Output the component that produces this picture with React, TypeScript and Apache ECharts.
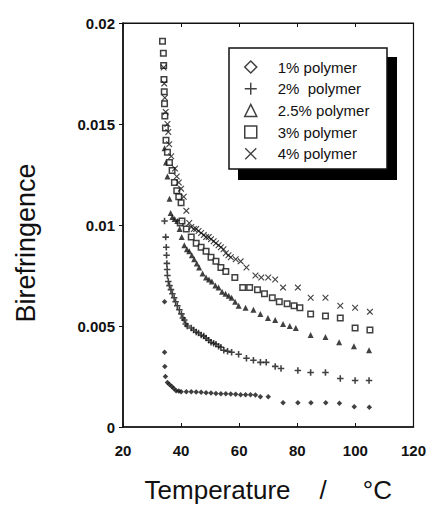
import React, { useEffect, useRef } from 'react';
import * as echarts from 'echarts';

const seriesNames = ['1% polymer', '2%  polymer', '2.5% polymer', '3% polymer', '4% polymer'];
const xTickValues = [20, 40, 60, 80, 100, 120];
const yTickValues = [0, 0.005, 0.01, 0.015, 0.02];

const p1: [number, number][] = [
  [34.3, 0.0062], [34.3, 0.0037], [34.4, 0.003], [34.6, 0.0025], [35.3, 0.0022], [36.0, 0.0021],
  [36.8, 0.002], [37.5, 0.0019], [38.3, 0.0018], [39.2, 0.00178], [40.0, 0.00175], [41.8, 0.00175],
  [43.5, 0.00175], [45.2, 0.00173], [46.9, 0.00172], [48.6, 0.0017], [50.3, 0.00168], [52.0, 0.00166],
  [53.7, 0.00165], [55.4, 0.00164], [57.1, 0.00163], [58.8, 0.00162], [60.5, 0.0016], [62.2, 0.0016],
  [63.9, 0.0016], [65.6, 0.00158], [67.3, 0.0015], [70.0, 0.0015], [75.1, 0.0012], [80.2, 0.0012],
  [84.7, 0.0012], [89.8, 0.0012], [94.5, 0.00118], [99.6, 0.001], [104.8, 0.00098],
];

const p2: [number, number][] = [
  [34.3, 0.0102], [34.7, 0.0094], [34.9, 0.0089], [35.0, 0.0085], [35.1, 0.0081], [35.2, 0.0078],
  [35.3, 0.0075], [35.6, 0.0072], [36.0, 0.007], [36.5, 0.0068], [37.0, 0.0066], [37.6, 0.0064],
  [38.1, 0.0062], [38.7, 0.006], [39.4, 0.0058], [40.1, 0.0056], [40.6, 0.0054], [41.1, 0.0053],
  [41.6, 0.0051], [42.1, 0.005], [43.5, 0.0049], [44.3, 0.0048], [45.2, 0.0047], [46.0, 0.00465],
  [46.9, 0.00455], [47.8, 0.0045], [48.6, 0.0044], [49.5, 0.0043], [50.3, 0.0042], [51.2, 0.00415],
  [52.0, 0.0041], [52.9, 0.004], [53.7, 0.00395], [54.7, 0.0038], [56.0, 0.00375], [57.4, 0.0037],
  [59.8, 0.0036], [62.5, 0.0034], [64.9, 0.0033], [67.3, 0.0032], [69.3, 0.0032], [72.4, 0.003],
  [74.4, 0.0029], [80.2, 0.0028], [84.6, 0.0027], [89.7, 0.0027], [94.8, 0.0024], [99.9, 0.0023],
  [104.7, 0.0023],
];

const p25: [number, number][] = [
  [34.3, 0.0138], [34.8, 0.0131], [35.3, 0.0124], [36.0, 0.0113], [36.4, 0.0106], [37.0, 0.0104],
  [37.8, 0.0103], [38.7, 0.0102], [39.5, 0.0098], [40.2, 0.0094], [41.1, 0.009], [42.0, 0.0088],
  [42.8, 0.0087], [43.7, 0.0085], [44.5, 0.0083], [45.4, 0.0081], [46.2, 0.0079], [47.4, 0.0076],
  [48.6, 0.0074], [49.6, 0.0073], [50.6, 0.0072], [51.8, 0.007], [52.9, 0.0069], [54.1, 0.0067],
  [55.3, 0.0066], [56.4, 0.0065], [57.4, 0.0064], [58.6, 0.0062], [59.8, 0.006], [62.2, 0.0059],
  [64.9, 0.0058], [67.3, 0.0056], [69.9, 0.0054], [72.4, 0.0053], [75.1, 0.0051], [77.4, 0.005],
  [79.5, 0.0049], [84.6, 0.00455], [89.7, 0.00445], [94.4, 0.0042], [99.5, 0.004], [104.7, 0.0038],
];

const p3: [number, number][] = [
  [33.6, 0.0191], [33.9, 0.0185], [34.0, 0.0179], [34.1, 0.0172], [34.2, 0.0166], [34.3, 0.016],
  [34.4, 0.0154], [34.6, 0.0148], [34.8, 0.0142], [35.3, 0.0136], [36.0, 0.0131], [36.9, 0.0127],
  [37.7, 0.0121], [38.5, 0.0117], [39.2, 0.0114], [40.0, 0.0111], [39.7, 0.0101], [40.3, 0.0102],
  [41.8, 0.0098], [43.5, 0.0094], [45.2, 0.0091], [46.9, 0.0089], [48.6, 0.0087], [50.3, 0.0084],
  [52.0, 0.0082], [53.7, 0.0079], [55.4, 0.0077], [58.5, 0.0074], [61.2, 0.0069], [63.6, 0.0069],
  [66.3, 0.0068], [68.7, 0.0066], [71.4, 0.0064], [73.8, 0.0062], [76.5, 0.0061], [78.9, 0.006],
  [80.9, 0.0059], [84.6, 0.0056], [89.7, 0.0055], [94.8, 0.0054], [99.9, 0.0049], [105.0, 0.0048],
];

const p4: [number, number][] = [
  [34.0, 0.0178], [34.2, 0.017], [34.4, 0.0163], [34.7, 0.0156], [35.3, 0.015], [35.6, 0.0146],
  [35.9, 0.014], [36.6, 0.0134], [37.9, 0.0128], [38.5, 0.0124], [39.2, 0.0121], [40.0, 0.0118],
  [40.9, 0.0114], [41.8, 0.0107], [42.8, 0.0101], [43.5, 0.0099], [44.4, 0.0098], [45.2, 0.0098],
  [46.0, 0.0097], [46.9, 0.0096], [47.8, 0.0095], [48.6, 0.0094], [49.5, 0.0094], [50.3, 0.0093],
  [51.2, 0.0092], [52.0, 0.0091], [52.9, 0.009], [53.7, 0.0089], [54.6, 0.0088], [55.4, 0.0086],
  [56.3, 0.0085], [57.1, 0.0084], [58.8, 0.0083], [60.5, 0.0082], [62.5, 0.0079], [65.6, 0.0075],
  [67.6, 0.0074], [70.0, 0.0074], [72.4, 0.0073], [75.1, 0.0069], [80.2, 0.0069], [84.6, 0.0064],
  [89.7, 0.0064], [94.8, 0.006], [99.9, 0.0059], [105.0, 0.0057],
];

const seriesData = [p1, p2, p25, p3, p4];

const PLUS_FILL = 'path://M3.8,0H6.2V3.8H10V6.2H6.2V10H3.8V6.2H0V3.8H3.8Z';
const X_FILL = 'path://M1.2,0L5,3.8L8.8,0L10,1.2L6.2,5L10,8.8L8.8,10L5,6.2L1.2,10L0,8.8L3.8,5L0,1.2Z';
const PLUS_THIN = 'path://M4.4,0H5.6V4.4H10V5.6H5.6V10H4.4V5.6H0V4.4H4.4Z';
const X_THIN = 'path://M0.8,0L5,4.2L9.2,0L10,0.8L5.8,5L10,9.2L9.2,10L5,5.8L0.8,10L0,9.2L4.2,5L0,0.8Z';

const INK = '#111';
const FONT = '"Liberation Sans", Arial, Helvetica, sans-serif';

export default function App() {
  const ref = useRef<HTMLDivElement>(null);
  useEffect(() => {
    if (!ref.current) return;
    const chart = echarts.init(ref.current, undefined, { renderer: 'svg' });

    const plotSymbols = ['diamond', PLUS_FILL, 'triangle', 'rect', X_FILL];
    const plotSizes = [5.5, 6.5, 6, 5.5, 6.5];
    const legendIcons = ['diamond', PLUS_THIN, 'triangle', 'rect', X_THIN];
    const hollow = [true, false, true, true, false];

    const series = seriesNames.map((name, i) => ({
      name,
      type: 'scatter',
      data: seriesData[i],
      symbol: plotSymbols[i],
      symbolSize: plotSizes[i],
      itemStyle:
        i === 3
          ? { color: '#fff', borderColor: INK, borderWidth: 1.5 }
          : { color: INK },
      z: 3,
    }));

    chart.setOption({
      animation: false,
      backgroundColor: '#fff',
      grid: {
        left: 123,
        right: 12,
        top: 23,
        bottom: 84,
        show: true,
        borderColor: INK,
        borderWidth: 1.2,
        backgroundColor: 'transparent',
      },
      xAxis: [
        {
          type: 'value',
          min: 20,
          max: 120,
          interval: 20,
          position: 'bottom',
          splitLine: { show: false },
          axisLine: { show: true, lineStyle: { color: INK, width: 1.6 } },
          axisTick: { show: true, inside: true, length: 4, lineStyle: { color: INK } },
          axisLabel: {
            margin: 16,
            color: INK,
            fontFamily: FONT,
            fontWeight: 'bold',
            fontSize: 15,
            formatter: (v: number) => (xTickValues.includes(v) ? String(v) : ''),
          },
          name: 'Temperature    /     °C',
          nameLocation: 'middle',
          nameGap: 50,
          nameTextStyle: { color: INK, fontFamily: FONT, fontSize: 26 },
        },
        {
          type: 'value',
          min: 20,
          max: 120,
          interval: 20,
          position: 'top',
          splitLine: { show: false },
          axisLine: { show: true, lineStyle: { color: INK, width: 1.2 } },
          axisTick: { show: true, inside: true, length: 4, lineStyle: { color: INK } },
          axisLabel: { show: false },
        },
      ],
      yAxis: {
        type: 'value',
        min: 0,
        max: 0.02,
        interval: 0.005,
        splitLine: { show: false },
        axisLine: { show: true, lineStyle: { color: INK, width: 1.6 } },
        axisTick: { show: true, inside: false, length: 4, lineStyle: { color: INK } },
        axisLabel: {
          margin: 8,
          color: INK,
          fontFamily: FONT,
          fontWeight: 'bold',
          fontSize: 15,
          formatter: (v: number) => {
            const r = parseFloat(v.toFixed(4));
            const hit = yTickValues.find((t) => Math.abs(t - r) < 1e-9);
            return hit === undefined ? '' : String(hit);
          },
        },
        name: 'Birefringence',
        nameLocation: 'middle',
        nameGap: 84,
        nameRotate: 90,
        nameTextStyle: {
          color: INK,
          fontFamily: FONT,
          fontSize: 27,
          padding: [0, 36, 0, 0],
        },
      },
      legend: {
        orient: 'vertical',
        left: 244,
        top: 59.5,
        padding: 0,
        itemWidth: 12,
        itemHeight: 12,
        itemGap: 6.7,
        z: 10,
        selectedMode: false,
        textStyle: {
          color: INK,
          fontFamily: FONT,
          fontSize: 15,
          padding: [0, 0, 0, 16],
        },
        data: seriesNames.map((name, i) => ({
          name,
          icon: legendIcons[i],
          itemStyle: hollow[i]
            ? { color: '#fff', borderColor: INK, borderWidth: 1.5 }
            : { color: INK, borderWidth: 0 },
        })),
      },
      graphic: [
        {
          type: 'rect',
          z: 1,
          shape: { x: 238, y: 57, width: 159, height: 123 },
          style: { fill: '#000' },
        },
        {
          type: 'rect',
          z: 2,
          shape: { x: 229, y: 48, width: 158, height: 121 },
          style: { fill: '#fff', stroke: INK, lineWidth: 1.5 },
        },
      ],
      series,
    });

    return () => chart.dispose();
  }, []);

  return (
    <div
      ref={ref}
      style={{ position: 'fixed', left: 0, top: 0, width: 429, height: 511, background: '#fff' }}
    />
  );
}
